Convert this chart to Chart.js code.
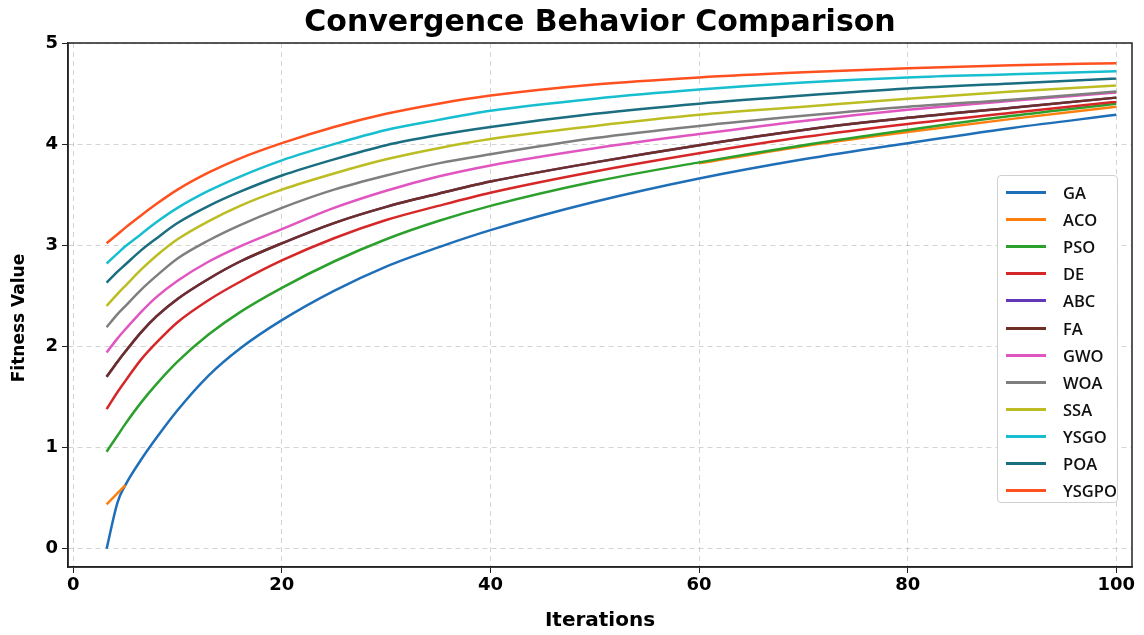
<!DOCTYPE html>
<html><head><meta charset="utf-8">
<script src="https://cdn.jsdelivr.net/npm/chart.js@4.4.0/dist/chart.umd.min.js"></script>
<style>
html,body{margin:0;padding:0;background:#fff;}
#wrap{position:relative;width:1144px;height:635px;}
#title{position:absolute;left:68px;width:1064px;top:3px;text-align:center;font-family:'DejaVu Sans',sans-serif;font-weight:bold;font-size:30px;line-height:36px;color:#000;white-space:nowrap;}
#legend{position:absolute;left:997px;top:175px;width:121px;height:328px;box-sizing:border-box;border:1px solid #d0d0d0;border-radius:4px;background:rgba(255,255,255,0.92);padding-top:3px;font-family:'Open Sans',sans-serif;font-weight:600;font-size:16.5px;color:#111;}
.row{height:27.1px;display:flex;align-items:center;white-space:nowrap;}
.sw{width:40px;height:3px;margin-left:8px;margin-right:17px;flex:none;}
</style></head><body>
<div id="wrap"><canvas id="c" width="1144" height="635"></canvas><div id="title"></div><div id="legend"></div></div>
<script>
const chartTitle = 'Convergence Behavior Comparison';
const xTitle = 'Iterations';
const yTitle = 'Fitness Value';
const iterations = [3.2, 4.25, 5, 6.5, 8, 10, 13, 16, 20, 25, 30, 35, 40, 50, 60, 70, 80, 90, 100];
const GA    = [0, 0.46, 0.63, 0.88, 1.10, 1.37, 1.715, 1.98, 2.26, 2.55, 2.79, 2.98, 3.15, 3.43, 3.66, 3.85, 4.01, 4.16, 4.29];
const ACO   = [0.44, 0.55, 0.63, null, null, null, null, null, null, null, null, null, null, null, 3.81, 3.98, 4.12, 4.25, 4.37];
const PSO   = [0.96, 1.12, 1.235, 1.445, 1.63, 1.85, 2.12, 2.34, 2.58, 2.84, 3.06, 3.24, 3.39, 3.63, 3.82, 3.99, 4.14, 4.28, 4.40];
const DE    = [1.38, 1.55, 1.66, 1.87, 2.04, 2.24, 2.46, 2.64, 2.85, 3.07, 3.25, 3.39, 3.52, 3.73, 3.91, 4.07, 4.20, 4.31, 4.42];
const ABC   = [1.70, 1.85, 1.95, 2.14, 2.30, 2.47, 2.67, 2.84, 3.02, 3.22, 3.38, 3.51, 3.63, 3.82, 3.99, 4.14, 4.26, 4.36, 4.46];
const FA    = [1.70, 1.85, 1.95, 2.14, 2.30, 2.47, 2.67, 2.84, 3.02, 3.22, 3.38, 3.51, 3.63, 3.82, 3.99, 4.14, 4.26, 4.36, 4.46];
const GWO   = [1.94, 2.08, 2.17, 2.34, 2.49, 2.65, 2.84, 2.99, 3.16, 3.37, 3.54, 3.68, 3.79, 3.96, 4.10, 4.23, 4.34, 4.43, 4.51];
const WOA   = [2.19, 2.32, 2.40, 2.56, 2.70, 2.87, 3.05, 3.20, 3.37, 3.55, 3.69, 3.81, 3.90, 4.06, 4.18, 4.28, 4.37, 4.44, 4.52];
const SSA   = [2.40, 2.52, 2.60, 2.76, 2.90, 3.06, 3.24, 3.39, 3.55, 3.71, 3.85, 3.96, 4.05, 4.18, 4.29, 4.37, 4.45, 4.52, 4.58];
const YSGO  = [2.82, 2.92, 2.99, 3.11, 3.23, 3.37, 3.54, 3.68, 3.84, 4.00, 4.14, 4.24, 4.33, 4.45, 4.54, 4.61, 4.66, 4.69, 4.72];
const POA   = [2.63, 2.74, 2.81, 2.95, 3.07, 3.22, 3.39, 3.53, 3.69, 3.85, 3.99, 4.09, 4.17, 4.30, 4.40, 4.48, 4.55, 4.60, 4.65];
const YSGPO = [3.02, 3.11, 3.175, 3.295, 3.41, 3.55, 3.72, 3.86, 4.01, 4.17, 4.30, 4.40, 4.48, 4.59, 4.66, 4.71, 4.75, 4.78, 4.80];
const seriesNames = ['GA','ACO','PSO','DE','ABC','FA','GWO','WOA','SSA','YSGO','POA','YSGPO'];
const seriesValues = [GA, ACO, PSO, DE, ABC, FA, GWO, WOA, SSA, YSGO, POA, YSGPO];
const seriesColors = ['#1f6fb8','#ff7f0e','#2ca02c','#d62728','#6237b8','#6e2f26','#e055c0','#7f7f7f','#bcbd22','#17becf','#1a6e80','#ff5020'];
const xTicks = [0, 20, 40, 60, 80, 100];
const yTicks = [0, 1, 2, 3, 4, 5];

document.getElementById('title').textContent = chartTitle;

const N = seriesNames.length;
const datasets = seriesNames.map((name, i) => ({
  label: name,
  data: iterations.map((x, k) => ({x: x, y: seriesValues[i][k]})),
  borderColor: seriesColors[i],
  backgroundColor: seriesColors[i],
  borderWidth: 2.5,
  pointRadius: 0,
  fill: false,
  spanGaps: false,
  cubicInterpolationMode: 'monotone',
  order: N - i
}));

const frame = {
  id: 'frame',
  afterDraw(chart) {
    const a = chart.chartArea, ctx = chart.ctx;
    ctx.save();
    ctx.strokeStyle = '#222';
    ctx.lineWidth = 1.5;
    ctx.setLineDash([]);
    ctx.strokeRect(a.left, a.top, a.right - a.left, a.bottom - a.top);
    ctx.translate(20, 318);
    ctx.rotate(-Math.PI / 2);
    ctx.font = 'bold 17px "DejaVu Sans"';
    ctx.fillStyle = '#000';
    ctx.textAlign = 'center';
    ctx.textBaseline = 'middle';
    ctx.fillText(yTitle, 0, 0);
    ctx.restore();
  }
};

const tickFont = {family: 'DejaVu Sans', weight: 'bold', size: 18};
const gridOpts = {color: 'rgba(0,0,0,0.17)', tickLength: 6, tickColor: '#222', tickBorderDash: [], lineWidth: 1};
new Chart(document.getElementById('c'), {
  type: 'line',
  data: {datasets},
  plugins: [frame],
  options: {
    responsive: false,
    animation: false,
    devicePixelRatio: 1,
    layout: {padding: {left: 0, right: 12, top: 43, bottom: 0}},
    plugins: {
      legend: {display: false},
      tooltip: {enabled: false},
      title: {display: false}
    },
    scales: {
      x: {
        type: 'linear',
        min: -0.5, max: 101.5,
        afterBuildTicks: s => { s.ticks = xTicks.map(v => ({value: v})); },
        afterFit: s => { s.height = 68; },
        ticks: {color: '#000', font: tickFont, padding: 2, maxRotation: 0, autoSkip: false},
        grid: gridOpts,
        border: {display: true, color: '#222', width: 1.5, dash: [5, 4]},
        title: {display: true, text: xTitle, color: '#000', font: {family: 'DejaVu Sans', weight: 'bold', size: 20}, padding: {top: 0, bottom: 2}}
      },
      y: {
        type: 'linear',
        min: -0.18, max: 5,
        afterBuildTicks: s => { s.ticks = yTicks.map(v => ({value: v})); },
        afterFit: s => { s.width = 68; },
        ticks: {color: '#000', font: tickFont, padding: 4},
        grid: gridOpts,
        border: {display: true, color: '#222', width: 1.5, dash: [5, 4]},
        title: {display: false}
      }
    }
  }
});

const leg = document.getElementById('legend');
seriesNames.forEach((name, i) => {
  const row = document.createElement('div');
  row.className = 'row';
  const sw = document.createElement('span');
  sw.className = 'sw';
  sw.style.background = seriesColors[i];
  const t = document.createElement('span');
  t.textContent = name;
  row.appendChild(sw); row.appendChild(t);
  leg.appendChild(row);
});
</script>
</body></html>
